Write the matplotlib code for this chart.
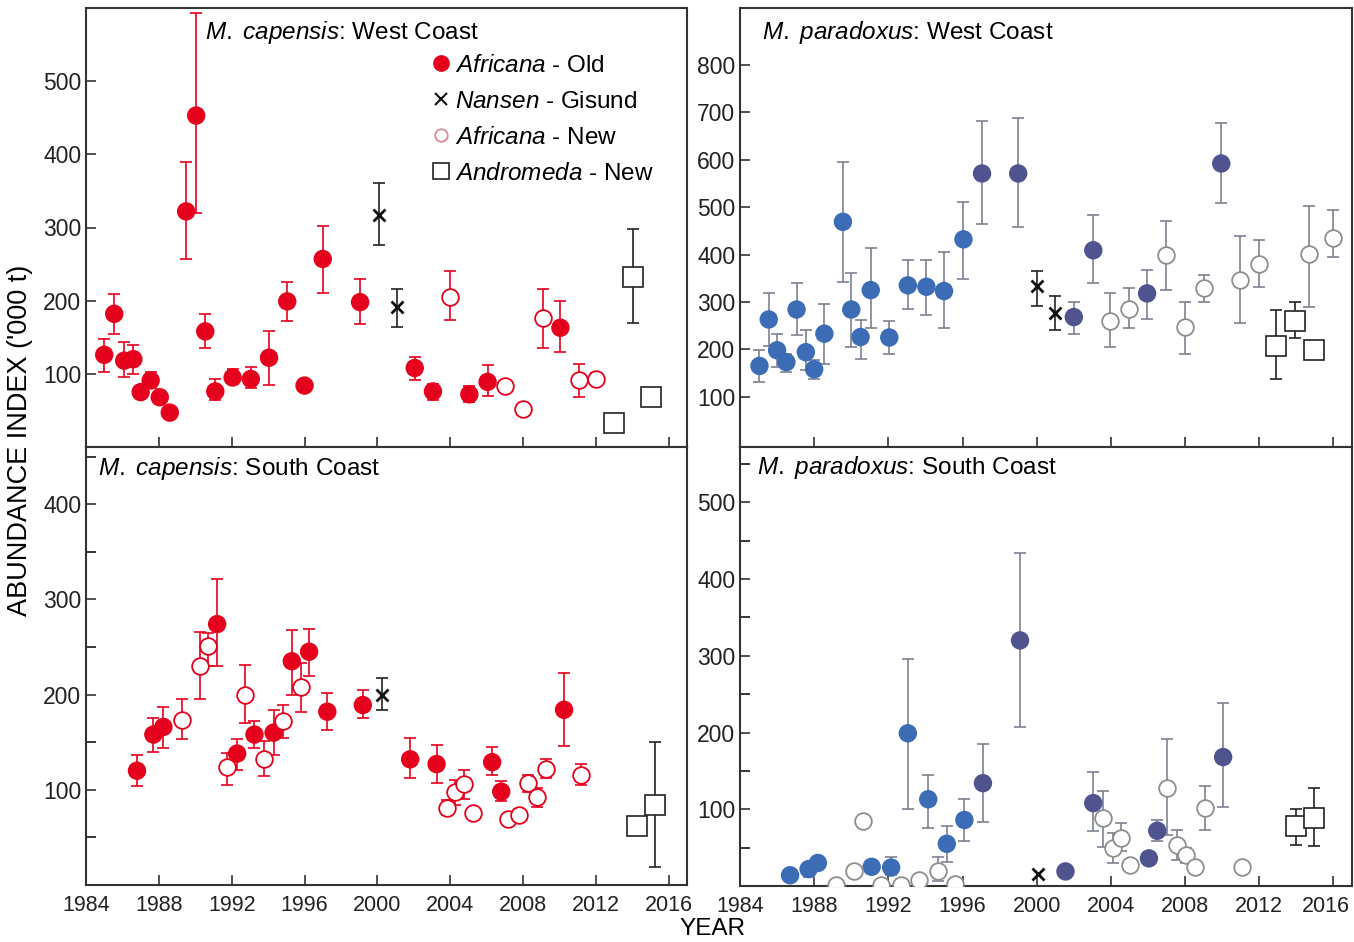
import numpy as np
import matplotlib
matplotlib.use('Agg')
import matplotlib.pyplot as plt
import matplotlib.transforms as mtransforms
from matplotlib.lines import Line2D

plt.rcParams['font.family'] = ['Liberation Sans', 'DejaVu Sans']
plt.rcParams['mathtext.fontset'] = 'custom'
plt.rcParams['mathtext.rm'] = 'Liberation Sans'
plt.rcParams['mathtext.it'] = 'Liberation Sans:italic'

nan = np.nan

# ---- M. capensis, West Coast
cwc_old_yr = [1985.0, 1985.55, 1986.1, 1986.6, 1987.0, 1987.55, 1988.05, 1988.6, 1989.5, 1990.05,
              1990.55, 1991.1, 1992.05, 1993.05, 1994.05, 1995.05, 1996.0, 1997.0, 1999.05, 2002.05,
              2003.05, 2005.05, 2006.05, 2010.05]
cwc_old_val = [126, 182, 118, 120, 75, 91, 68, 47, 322, 453, 158, 76, 95, 93, 122, 199, 84, 257, 198, 108,
               76, 72, 89, 163]
cwc_old_lo = [103, 155, 95, 100, 68, 80, nan, nan, 257, 320, 135, 64, 86, 80, 85, 172, nan, 211, 168, 91,
              64, 62, 70, 130]
cwc_old_hi = [148, 209, 143, 139, 82, 102, nan, nan, 389, 593, 182, 93, 107, 109, 158, 226, nan, 302, 230, 123,
              86, 84, 112, 199]
cwc_nan_yr = [2000.1, 2001.05]
cwc_nan_val = [317, 191]
cwc_nan_lo = [276, 164]
cwc_nan_hi = [361, 216]
cwc_new_yr = [2004.0, 2007.0, 2008.0, 2009.1, 2011.05, 2012.0]
cwc_new_val = [205, 83, 52, 176, 91, 93]
cwc_new_lo = [173, 76, 47, 135, 68, 85]
cwc_new_hi = [240, 90, 58, 216, 114, 101]
cwc_and_yr = [2013.0, 2014.05, 2015.0]
cwc_and_val = [33, 232, 68]
cwc_and_lo = [nan, 170, nan]
cwc_and_hi = [nan, 298, nan]

# ---- M. paradoxus, West Coast
pwc_old_yr = [1985.05, 1985.55, 1986.0, 1986.5, 1987.05, 1987.55, 1988.0, 1988.55, 1989.55, 1990.0,
              1990.5, 1991.05, 1992.05, 1993.05, 1994.05, 1995.0, 1996.05, 1997.05, 1999.0, 2002.0,
              2003.05, 2005.95, 2009.95]
pwc_old_val = [165, 263, 198, 173, 284, 194, 158, 233, 469, 284, 226, 325, 225, 335, 332, 323, 432, 571, 571,
               268, 409, 318, 592]
pwc_old_lo = [131, 208, 163, 152, 230, 156, 138, 170, 342, 205, 180, 244, 191, 286, 272, 244, 349, 464, 457,
              233, 340, 265, 508]
pwc_old_hi = [198, 318, 233, 191, 339, 240, 177, 296, 596, 361, 261, 413, 260, 388, 389, 406, 511, 682, 687,
              300, 483, 367, 678]
pwc_nan_yr = [2000.0, 2001.0]
pwc_nan_val = [333, 277]
pwc_nan_lo = [291, 240]
pwc_nan_hi = [365, 312]
pwc_new_yr = [2003.95, 2004.95, 2006.95, 2008.0, 2009.0, 2010.95, 2012.0, 2014.7, 2015.95]
pwc_new_val = [260, 286, 400, 247, 330, 346, 379, 402, 434]
pwc_new_lo = [204, 244, 325, 191, 300, 256, 332, 289, 395]
pwc_new_hi = [318, 330, 471, 300, 356, 439, 430, 503, 494]
pwc_and_yr = [2012.9, 2013.95, 2014.95]
pwc_and_val = [208, 260, 198]
pwc_and_lo = [138, 223, 180]
pwc_and_hi = [282, 300, 217]

# ---- M. capensis, South Coast
csc_old_yr = [1986.8, 1987.7, 1988.25, 1991.2, 1992.3, 1993.25, 1994.3, 1995.3, 1996.25, 1997.25,
              1999.2, 2001.8, 2003.25, 2006.3, 2006.8, 2010.25]
csc_old_val = [120, 158, 166, 274, 138, 158, 160, 235, 245, 182, 189, 132, 127, 129, 98, 184]
csc_old_lo = [104, 140, 144, 230, 121, 144, 137, 200, 219, 163, 175, 112, 107, 116, 88, 146]
csc_old_hi = [137, 175, 187, 321, 153, 172, 184, 268, 269, 202, 205, 154, 147, 145, 109, 223]
csc_nan_yr = [2000.25]
csc_nan_val = [200]
csc_nan_lo = [184]
csc_nan_hi = [217]
csc_new_yr = [1989.25, 1990.25, 1990.7, 1991.75, 1992.75, 1993.75, 1994.8, 1995.8, 2003.8, 2004.25,
              2004.75, 2005.25, 2007.15, 2007.8, 2008.25, 2008.75, 2009.25, 2011.2]
csc_new_val = [173, 230, 251, 124, 200, 132, 172, 208, 81, 98, 106, 76, 69, 73, 107, 92, 122, 116]
csc_new_lo = [153, 195, 230, 105, 170, 114, 154, 182, 74, 84, 90, nan, nan, nan, 98, 82, 112, 105]
csc_new_hi = [195, 266, 265, 139, 231, 151, 189, 233, 89, 110, 121, nan, nan, nan, 116, 102, 132, 127]
csc_and_yr = [2014.25, 2015.25]
csc_and_val = [62, 84]
csc_and_lo = [nan, 19]
csc_and_hi = [nan, 150]

# ---- M. paradoxus, South Coast
psc_old_yr = [1986.7, 1987.7, 1988.2, 1991.1, 1992.15, 1993.05, 1994.15, 1995.15, 1996.1, 1997.1,
              1999.1, 2001.55, 2003.05, 2006.05, 2006.5, 2010.05]
psc_old_val = [14, 22, 30, 25, 24, 199, 113, 55, 86, 134, 320, 19, 108, 36, 72, 168]
psc_old_lo = [nan, 12, nan, 18, 14, 100, 75, 31, 59, 84, 207, nan, 72, nan, 58, 103]
psc_old_hi = [nan, 30, nan, 32, 38, 296, 145, 78, 114, 185, 434, nan, 149, nan, 86, 238]
psc_nan_yr = [2000.05]
psc_nan_val = [15]
psc_nan_lo = [nan]
psc_nan_hi = [nan]
psc_new_yr = [1989.2, 1990.15, 1990.65, 1991.6, 1992.7, 1993.65, 1994.65, 1995.6, 2003.55, 2004.1,
              2004.55, 2005.05, 2007.05, 2007.55, 2008.05, 2008.55, 2009.05, 2011.05]
psc_new_val = [1, 19, 85, 1, 1, 8, 19, 3, 88, 49, 63, 27, 128, 53, 40, 25, 102, 25]
psc_new_lo = [nan, 13, nan, nan, nan, nan, 7, nan, 51, 30, 46, nan, 67, 34, 30, nan, 73, nan]
psc_new_hi = [nan, 25, nan, nan, nan, nan, 38, nan, 124, 69, 82, nan, 191, 73, 50, nan, 130, nan]
psc_and_yr = [2014.0, 2014.95]
psc_and_val = [78, 89]
psc_and_lo = [54, 52]
psc_and_hi = [100, 128]

year_ticks = list(range(1984, 2017, 4))

RED = '#e5001c'
BLUE = '#3b6cb5'
NAVY = '#4f548f'
GREYBAR = '#7d8090'


def bars(ax, yr, val, lo, hi, col, lw=1.2):
    val = np.array(val, float)
    err = [val - np.array(lo, float), np.array(hi, float) - val]
    ax.errorbar(yr, val, yerr=err, fmt='none', ecolor=col, elinewidth=lw,
                capsize=4, capthick=lw, zorder=2)


def panel(ax, d, red, ylim, yticks, minor):
    barcol = RED if red else GREYBAR
    # Africana - Old
    bars(ax, d['old'][0], d['old'][1], d['old'][2], d['old'][3], barcol)
    yr = np.array(d['old'][0])
    if red:
        cols = [RED] * len(yr)
    else:
        cols = np.where(yr < 1996.8, BLUE, NAVY)
    ax.scatter(yr, d['old'][1], s=150, c=cols, edgecolors=cols, linewidths=1, zorder=4)
    # Africana - New
    bars(ax, d['new'][0], d['new'][1], d['new'][2], d['new'][3], barcol)
    ax.plot(d['new'][0], d['new'][1], 'o', ms=12, mfc='white',
            mec=RED if red else '#8e8e8e', mew=1.3, ls='none', zorder=4)
    # Nansen - Gisund
    bars(ax, d['nan'][0], d['nan'][1], d['nan'][2], d['nan'][3], '#222222')
    ax.plot(d['nan'][0], d['nan'][1], 'x', ms=9, mec='#111111', mew=2, ls='none', zorder=5)
    # Andromeda - New
    bars(ax, d['and'][0], d['and'][1], d['and'][2], d['and'][3], '#222222')
    ax.plot(d['and'][0], d['and'][1], 's', ms=14, mfc='white', mec='#222222',
            mew=1.2, ls='none', zorder=5)

    ax.set_xlim(1984, 2017)
    ax.set_ylim(*ylim)
    ax.set_xticks(year_ticks)
    ax.set_yticks(yticks)
    if minor:
        ax.set_yticks(minor, minor=True)
    ax.tick_params(direction='in', length=7, width=1.1, colors='#222222')
    ax.tick_params(axis='y', labelsize=16.5)
    ax.tick_params(axis='x', labelsize=15.5)
    ax.tick_params(which='minor', direction='in', length=7, width=1.1)
    for s in ax.spines.values():
        s.set_linewidth(1.5)
        s.set_color('#333333')


fig = plt.figure(figsize=(13.54, 9.42), dpi=100)
W, H = 1354, 942


def add(x0, x1, y0, y1):
    return fig.add_axes([x0 / W, 1 - y1 / H, (x1 - x0) / W, (y1 - y0) / H])


ax_cwc = add(86, 687, 8, 447)
ax_pwc = add(740, 1352, 8, 447)
ax_csc = add(86, 687, 447, 885)
ax_psc = add(740, 1352, 447, 886)

panel(ax_cwc, {'old': (cwc_old_yr, cwc_old_val, cwc_old_lo, cwc_old_hi),
               'nan': (cwc_nan_yr, cwc_nan_val, cwc_nan_lo, cwc_nan_hi),
               'new': (cwc_new_yr, cwc_new_val, cwc_new_lo, cwc_new_hi),
               'and': (cwc_and_yr, cwc_and_val, cwc_and_lo, cwc_and_hi)},
      True, (0, 600), [100, 200, 300, 400, 500], None)
panel(ax_pwc, {'old': (pwc_old_yr, pwc_old_val, pwc_old_lo, pwc_old_hi),
               'nan': (pwc_nan_yr, pwc_nan_val, pwc_nan_lo, pwc_nan_hi),
               'new': (pwc_new_yr, pwc_new_val, pwc_new_lo, pwc_new_hi),
               'and': (pwc_and_yr, pwc_and_val, pwc_and_lo, pwc_and_hi)},
      False, (-6, 920), [100, 200, 300, 400, 500, 600, 700, 800], None)
panel(ax_csc, {'old': (csc_old_yr, csc_old_val, csc_old_lo, csc_old_hi),
               'nan': (csc_nan_yr, csc_nan_val, csc_nan_lo, csc_nan_hi),
               'new': (csc_new_yr, csc_new_val, csc_new_lo, csc_new_hi),
               'and': (csc_and_yr, csc_and_val, csc_and_lo, csc_and_hi)},
      True, (0, 460), [100, 200, 300, 400], [50, 150, 250, 350, 450])
panel(ax_psc, {'old': (psc_old_yr, psc_old_val, psc_old_lo, psc_old_hi),
               'nan': (psc_nan_yr, psc_nan_val, psc_nan_lo, psc_nan_hi),
               'new': (psc_new_yr, psc_new_val, psc_new_lo, psc_new_hi),
               'and': (psc_and_yr, psc_and_val, psc_and_lo, psc_and_hi)},
      False, (0, 572), [100, 200, 300, 400, 500], [50, 150, 250, 350, 450, 550])

for ax in (ax_cwc, ax_pwc):
    ax.tick_params(labelbottom=False)
for ax in (ax_csc, ax_psc):
    ax.set_xticklabels([str(y) for y in year_ticks])
    ax.tick_params(axis='x', pad=7)

# last year label of the right panel sits on the page edge: nudge it in
last = ax_psc.get_xticklabels()[-1]
last.set_transform(last.get_transform() +
                   mtransforms.ScaledTranslation(-8 / 100, 0, fig.dpi_scale_trans))

TFS = 17.5
ax_cwc.text(0.198, 0.945, r'$\it{M.}$ $\it{capensis}$: West Coast', transform=ax_cwc.transAxes,
            fontsize=TFS, va='center', ha='left')
ax_pwc.text(0.036, 0.945, r'$\it{M.}$ $\it{paradoxus}$: West Coast', transform=ax_pwc.transAxes,
            fontsize=TFS, va='center', ha='left')
ax_csc.text(0.02, 0.952, r'$\it{M.}$ $\it{capensis}$: South Coast', transform=ax_csc.transAxes,
            fontsize=TFS, va='center', ha='left')
ax_psc.text(0.028, 0.954, r'$\it{M.}$ $\it{paradoxus}$: South Coast', transform=ax_psc.transAxes,
            fontsize=TFS, va='center', ha='left')

handles = [Line2D([], [], marker='o', ls='none', ms=11, mfc=RED, mec=RED),
           Line2D([], [], marker='x', ls='none', ms=8, mec='#111111', mew=1.5),
           Line2D([], [], marker='o', ls='none', ms=9, mfc='white', mec='#d98c98', mew=1.3),
           Line2D([], [], marker='s', ls='none', ms=12, mfc='white', mec='#222222', mew=1.2)]
labels = [r'$\it{Africana}$ - Old', r'$\it{Nansen}$ - Gisund',
          r'$\it{Africana}$ - New', r'$\it{Andromeda}$ - New']
ax_cwc.legend(handles, labels, loc='upper left', bbox_to_anchor=(0.575, 0.893),
              frameon=False, fontsize=TFS, handlelength=0.8, handletextpad=0.15,
              labelspacing=0.57, borderpad=0, borderaxespad=0)

fig.text(20 / W, 0.533, "ABUNDANCE INDEX ('000 t)", rotation=90, fontsize=19.5,
         ha='center', va='center')
fig.text(712 / W, 0.002, 'YEAR', fontsize=17.5, ha='center', va='bottom')

fig.savefig('out.png', dpi=100)
